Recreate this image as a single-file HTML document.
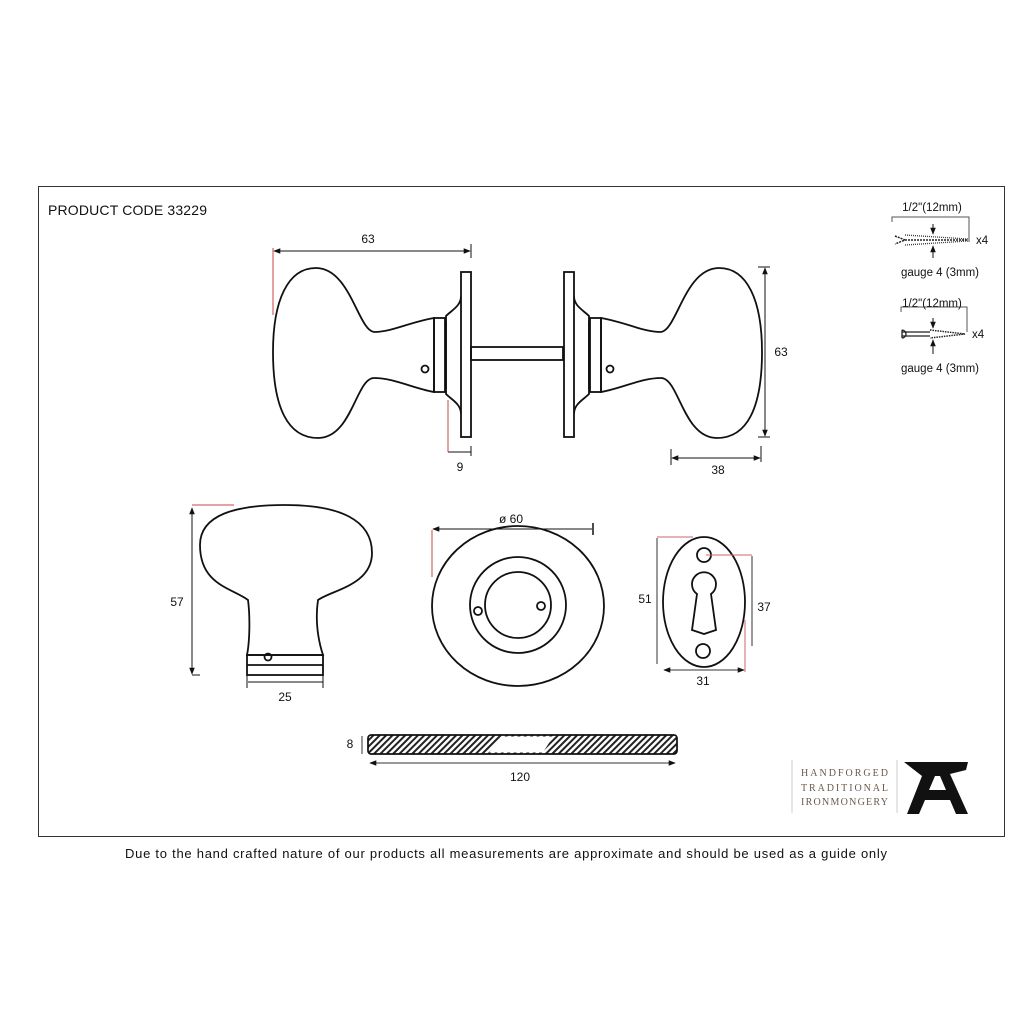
<!DOCTYPE html>
<html><head><meta charset="utf-8"><style>
html,body{margin:0;padding:0;background:#fff}
svg{display:block}
text{font-family:"Liberation Sans",sans-serif;fill:#111}
</style></head><body>
<svg width="1024" height="1024" viewBox="0 0 1024 1024" xmlns="http://www.w3.org/2000/svg">
<defs>
<marker id="a" viewBox="0 0 10 10" refX="9" refY="5" markerWidth="7" markerHeight="7" orient="auto-start-reverse"><path d="M0,1 L10,5 L0,9 z" fill="#111"/></marker>
<pattern id="h" width="4.5" height="4.5" patternUnits="userSpaceOnUse" patternTransform="rotate(45)"><rect width="2" height="4.5" fill="#222"/></pattern>
<g id="knob" fill="none" stroke="#111" stroke-width="1.8">
<path d="M434,318 C410,322 392,332 374,332 C358,330 350,268 316,268 C288,268 273,300 273,352 C273,408 288,438 318,438 C352,438 356,378 374,378 C394,378 412,388 434,392 Z" fill="#fff"/>
<rect x="434" y="318" width="11" height="74"/>
<line x1="446" y1="321" x2="446" y2="389"/>
<path d="M461,296 C461,306 452,310 446,316 L446,394 C452,400 461,404 461,414"/>
<rect x="461" y="272" width="10" height="165" fill="#fff"/>
<circle cx="425" cy="369" r="3.5"/>
</g>
</defs>
<rect x="38.5" y="186.5" width="966" height="650" fill="none" stroke="#333" stroke-width="1"/>
<text x="48" y="215" font-size="14" textLength="159">PRODUCT CODE 33229</text>
<text x="506" y="858" font-size="13" text-anchor="middle" textLength="762">Due to the hand crafted nature of our products all measurements are approximate and should be used as a guide only</text>

<use href="#knob"/>
<use href="#knob" transform="translate(1035,0) scale(-1,1)"/>
<rect x="471" y="347" width="92" height="13" fill="none" stroke="#111" stroke-width="1.8"/>
<g stroke="#111" stroke-width="1" fill="none">
<line x1="274" y1="251" x2="470" y2="251" marker-start="url(#a)" marker-end="url(#a)"/>
<line x1="471" y1="244" x2="471" y2="258"/>
<line x1="765" y1="268" x2="765" y2="436" marker-start="url(#a)" marker-end="url(#a)"/>
<line x1="758" y1="267" x2="770" y2="267"/><line x1="758" y1="437" x2="770" y2="437"/>
<line x1="672" y1="458" x2="760" y2="458" marker-start="url(#a)" marker-end="url(#a)"/>
<line x1="671" y1="449" x2="671" y2="465"/><line x1="761" y1="446" x2="761" y2="462"/>
<line x1="448" y1="452" x2="471" y2="452"/><line x1="471" y1="446" x2="471" y2="456"/>
</g>
<g stroke="#c44" stroke-width="1"><line x1="273" y1="248" x2="273" y2="315"/><line x1="448" y1="400" x2="448" y2="452"/></g>
<text x="368" y="243" font-size="12" text-anchor="middle">63</text>
<text x="460" y="471" font-size="12" text-anchor="middle">9</text>
<text x="781" y="356" font-size="12" text-anchor="middle">63</text>
<text x="718" y="474" font-size="12" text-anchor="middle">38</text>

<g stroke="#555" stroke-width="1" fill="none">
<path d="M892,222 L892,217 L969,217 L969,242"/>
<path d="M895,236 L905,240 L895,244 M905,240 L968,240" stroke="#222" stroke-width="1.5" stroke-dasharray="2 1"/>
<path d="M905,235 L968,239 M905,245 L968,241" stroke="#333" stroke-width="1.3" stroke-dasharray="1 1"/>
<path d="M901,312 L901,307 L967,307 L967,332"/>
<path d="M902,330 a4,4 0 0 1 0,8 M902,330 L902,338 M902,332 L930,332 M902,336 L930,336" stroke="#222" stroke-width="1.3"/>
<path d="M930,330 L965,334 L930,338" stroke="#222" stroke-width="1.5" stroke-dasharray="1.5 1"/>
</g>
<g stroke="#111" stroke-width="1"><line x1="933" y1="224" x2="933" y2="234" marker-end="url(#a)"/><line x1="933" y1="258" x2="933" y2="246" marker-end="url(#a)"/>
<line x1="933" y1="318" x2="933" y2="328" marker-end="url(#a)"/><line x1="933" y1="354" x2="933" y2="340" marker-end="url(#a)"/></g>
<text x="932" y="211" font-size="11.5" text-anchor="middle">1/2"(12mm)</text>
<text x="976" y="244" font-size="11.5">x4</text>
<text x="940" y="276" font-size="11.5" text-anchor="middle">gauge 4 (3mm)</text>
<text x="932" y="307" font-size="11.5" text-anchor="middle">1/2"(12mm)</text>
<text x="972" y="338" font-size="11.5">x4</text>
<text x="940" y="372" font-size="11.5" text-anchor="middle">gauge 4 (3mm)</text>

<g fill="none" stroke="#111" stroke-width="1.8">
<path d="M247,655 C250,640 250,615 248,600 C232,588 200,585 200,545 C200,515 235,505 285,505 C340,505 372,520 372,553 C372,585 332,590 318,600 C315,620 318,640 323,655 Z"/>
<rect x="247" y="655" width="76" height="20"/>
<line x1="247" y1="665" x2="323" y2="665"/>
<circle cx="268" cy="657" r="3.5"/>
</g>
<g stroke="#111" stroke-width="1" fill="none">
<line x1="192" y1="508" x2="192" y2="674" marker-start="url(#a)" marker-end="url(#a)"/>
<line x1="192" y1="675" x2="200" y2="675"/>
<line x1="248" y1="682" x2="323" y2="682"/><line x1="247" y1="672" x2="247" y2="688"/><line x1="323" y1="672" x2="323" y2="688"/>
</g>
<line x1="192" y1="505" x2="234" y2="505" stroke="#c44"/>
<text x="177" y="606" font-size="12" text-anchor="middle">57</text>
<text x="285" y="701" font-size="12" text-anchor="middle">25</text>

<g fill="none" stroke="#111" stroke-width="1.8">
<ellipse cx="518" cy="606" rx="86" ry="80"/>
<circle cx="518" cy="605" r="48"/>
<circle cx="518" cy="605" r="33"/>
<circle cx="478" cy="611" r="4"/><circle cx="541" cy="606" r="4"/>
</g>
<line x1="433" y1="529" x2="592" y2="529" stroke="#111" marker-start="url(#a)"/>
<line x1="593" y1="523" x2="593" y2="535" stroke="#111" stroke-width="1.5"/>
<line x1="432" y1="530" x2="432" y2="577" stroke="#c44"/>
<text x="511" y="523" font-size="12" text-anchor="middle">ø 60</text>

<g fill="none" stroke="#111" stroke-width="1.8">
<ellipse cx="704" cy="602" rx="41" ry="65"/>
<circle cx="704" cy="555" r="7"/><circle cx="703" cy="651" r="7"/>
<path d="M697,594 A12,12 0 1 1 711,594 L716,630 L704,634 L692,630 Z"/>
</g>
<g stroke="#333" stroke-width="1" fill="none">
<line x1="657" y1="538" x2="657" y2="664"/>
<line x1="752" y1="556" x2="752" y2="646"/>
<line x1="664" y1="670" x2="744" y2="670" marker-start="url(#a)" marker-end="url(#a)"/>
</g>
<g stroke="#c66" stroke-width="1"><line x1="657" y1="537" x2="693" y2="537"/><line x1="706" y1="555" x2="752" y2="555"/><line x1="745" y1="620" x2="745" y2="672"/></g>
<text x="645" y="603" font-size="12" text-anchor="middle">51</text>
<text x="764" y="611" font-size="12" text-anchor="middle">37</text>
<text x="703" y="685" font-size="12" text-anchor="middle">31</text>

<rect x="368" y="735" width="309" height="19" rx="3" fill="url(#h)" stroke="#111" stroke-width="1.5"/>
<path d="M501,736.5 L553,736.5 L543,752.5 L489,752.5 Z" fill="#fff"/>
<rect x="368" y="735" width="309" height="19" rx="3" fill="none" stroke="#111" stroke-width="1.5"/>
<g stroke="#333" stroke-width="1" fill="none">
<line x1="362" y1="736" x2="362" y2="754"/>
<line x1="370" y1="763" x2="675" y2="763" marker-start="url(#a)" marker-end="url(#a)"/>
</g>
<text x="350" y="748" font-size="12" text-anchor="middle">8</text>
<text x="520" y="781" font-size="12" text-anchor="middle">120</text>

<line x1="792" y1="760" x2="792" y2="813" stroke="#ccc"/>
<line x1="897" y1="760" x2="897" y2="813" stroke="#ccc"/>
<g font-size="10" style="fill:#6a5a4a">
<text x="801" y="776" textLength="87" style="font-family:'Liberation Serif',serif;fill:#6a5a4a">HANDFORGED</text>
<text x="801" y="791" textLength="87" style="font-family:'Liberation Serif',serif;fill:#6a5a4a">TRADITIONAL</text>
<text x="801" y="805" textLength="87" style="font-family:'Liberation Serif',serif;fill:#6a5a4a">IRONMONGERY</text>
</g>
<path d="M904,762 L968,762 L966,770 L950,774 L968,814 L956,814 L950,800 L925,800 L919,814 L907,814 L922,776 Z M929,790 L946,790 L940,776 L935,776 Z" fill="#111" fill-rule="evenodd"/>
</svg>
</body></html>
